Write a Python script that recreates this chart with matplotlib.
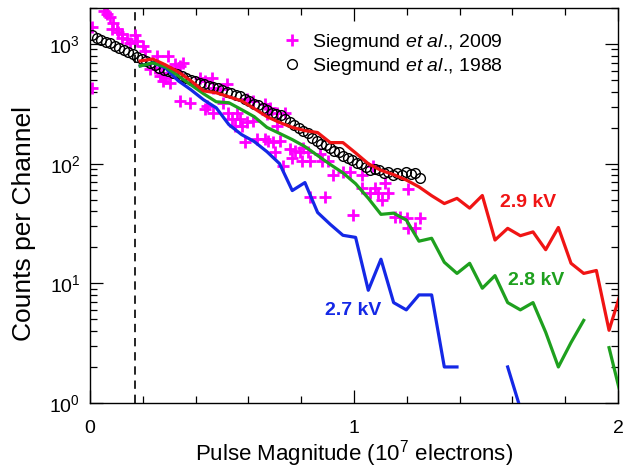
import numpy as np
import matplotlib
matplotlib.use("Agg")
import matplotlib.pyplot as plt
from matplotlib.ticker import MultipleLocator

plt.rcParams["font.family"] = ["Liberation Sans", "DejaVu Sans"]
plt.rcParams["mathtext.fontset"] = "custom"
plt.rcParams["mathtext.rm"] = "Liberation Sans"
plt.rcParams["mathtext.it"] = "Liberation Sans:italic"
plt.rcParams["mathtext.bf"] = "Liberation Sans:bold"

# modelled pulse height distributions, bins in units of 1e7 electrons
bin_start = 0.19
bin_width = 0.048
counts_29kv = [722, 749, 669, 585, 493, 406, 391, 362, 335, 289,
               247, 221, 201, 189, 182, 150, 150, 123, 100, 88,
               81, 73, 64, 54, 46.4, 51.3, 42.5, 54.2, 23, 28.8,
               25, 26.9, 19.1, 29.3, 14.7, 12.1, 12.8, 4.05, 8.9]
counts_28kv = [656, 695, 644, 542, 456, 384, 329, 323, 283, 247,
               201, 179, 159, 139, 117, 98.5, 83.8, 68, 51.4, 37.7,
               38.6, 33.8, 22.5, 23.8, 15.0, 12.1, 14.7, 9.1, 11.6, 6.9,
               6.0, 6.9, 3.9, 2.0, 3.2, 4.9, 0, 2.9, 1.08]
counts_27kv = [656, 695, 631, 493, 415, 342, 293, 212, 175, 153,
               126, 100, 59.6, 69.5, 39.1, 31.1, 25.2, 24.2, 8.75, 15.9,
               6.9, 6.0, 8.0, 8.0, 2.0, 2.0, 0, 0, 0, 2.0,
               0.9, 0, 0, 0, 0, 0, 0, 0, 0]

# Siegmund et al. 2009
pts_2009_x = [0.008, 0.008, 0.053, 0.064, 0.076, 0.087, 0.083, 0.102, 0.106, 0.121,
              0.121, 0.140, 0.152, 0.170, 0.178, 0.201, 0.208, 0.227, 0.246, 0.254,
              0.265, 0.273, 0.277, 0.284, 0.295, 0.303, 0.311, 0.322, 0.330, 0.341,
              0.352, 0.341, 0.379, 0.417, 0.436, 0.462, 0.466, 0.492, 0.519, 0.443,
              0.436, 0.466, 0.504, 0.523, 0.538, 0.557, 0.568, 0.549, 0.576, 0.595,
              0.617, 0.595, 0.617, 0.663, 0.682, 0.670, 0.708, 0.739, 0.708, 0.587,
              0.633, 0.663, 0.674, 0.693, 0.720, 0.701, 0.758, 0.777, 0.795, 0.826,
              0.765, 0.803, 0.731, 0.807, 0.833, 0.879, 0.902, 0.871, 0.920, 0.958,
              0.985, 1.030, 1.072, 1.030, 1.061, 1.080, 1.091, 1.117, 1.129, 1.106,
              0.890, 0.833, 0.996, 1.155, 1.174, 1.201, 1.205, 1.205, 1.231, 1.250]
pts_2009_y = [1384, 432, 1875, 1770, 1671, 1493, 1332, 1332, 1259, 1211,
              1122, 1102, 1021, 1189, 1061, 960, 872, 620, 632, 794,
              543, 575, 494, 522, 794, 474, 597, 682, 575, 656,
              695, 336, 323, 522, 494, 522, 431, 423, 465, 305,
              288, 266, 323, 266, 238, 266, 238, 208, 208, 221,
              229, 349, 336, 317, 293, 261, 266, 266, 208, 151,
              162, 162, 156, 151, 156, 124, 133, 128, 124, 124,
              112, 106, 96.5, 136, 106, 106, 106, 121, 79.8, 84.5,
              84.5, 79.8, 96.5, 63.1, 57.4, 63.1, 56.4, 69.5, 57.4, 49.4,
              52.3, 52.3, 37.0, 35.5, 35.5, 34.9, 62.0, 28.8, 28.8, 34.9]

# Siegmund et al. 1988, regular channels
ch_1988_start = 0.008
ch_1988_width = 0.017
counts_1988 = [1189, 1122, 1082, 1041, 1021, 962, 925, 890, 857, 825,
               779, 750, 722, 695, 669, 632, 608, 597, 575, 563,
               543, 522, 503, 494, 476, 467, 450, 440, 432, 415,
               399, 391, 376, 369, 349, 336, 317, 311, 293, 282,
               266, 261, 257, 238, 224, 212, 200, 189, 179, 165,
               156, 147, 142, 136, 128, 124, 117, 112, 108, 102,
               98.5, 94.5, 87.7, 91.0, 87.7, 82.8, 86.0, 79.8, 82.8, 79.8,
               84.5, 81.3, 82.8, 75.2]

threshold = 0.17

x_bins = bin_start + bin_width * np.arange(len(counts_29kv))
x_1988 = ch_1988_start + ch_1988_width * np.arange(len(counts_1988))

fig = plt.figure(figsize=(6.34, 4.70), dpi=100)
ax = fig.add_axes([0.142, 0.1426, 0.8328, 0.8404])
ax.set_yscale("log", nonpositive="mask")

ax.axvline(threshold, color="black", lw=1.2, ls=(0, (5, 3.5)), zorder=1)

ax.plot(pts_2009_x, pts_2009_y, ls="none", marker="+", ms=8, mew=2,
        color="#ff00ff", zorder=2, label="Siegmund $\\mathit{et\\ al}$., 2009")
ax.plot(x_1988, counts_1988, ls="none", marker="o", ms=7, mew=1,
        mfc="none", mec="black", zorder=3, label="Siegmund $\\mathit{et\\ al}$., 1988")

ax.plot(x_bins, counts_27kv, color="#1428e6", lw=2.3, zorder=4)
ax.plot(x_bins, counts_28kv, color="#1ea01e", lw=2.3, zorder=4)
ax.plot(x_bins, counts_29kv, color="#f01414", lw=2.3, zorder=4)

ax.text(1.66, 47, "2.9 kV", color="#f01414", fontsize=14, fontweight="bold",
        ha="center", va="center")
ax.text(1.69, 10.6, "2.8 kV", color="#1ea01e", fontsize=14, fontweight="bold",
        ha="center", va="center")
ax.text(0.996, 5.96, "2.7 kV", color="#1428e6", fontsize=14, fontweight="bold",
        ha="center", va="center")

ax.set_xlim(0, 2)
ax.set_ylim(1, 2000)
ax.xaxis.set_major_locator(MultipleLocator(1))
ax.xaxis.set_minor_locator(MultipleLocator(0.2))

ax.tick_params(which="both", direction="in", top=True, right=True, width=0.9)
ax.tick_params(which="major", length=9.5, labelsize=14)
ax.tick_params(which="minor", length=5)
ax.tick_params(axis="x", which="major", pad=12)
ax.tick_params(axis="y", which="major", pad=7)
for sp in ax.spines.values():
    sp.set_linewidth(1.0)

ax.set_xlabel("Pulse Magnitude (10$^7$ electrons)", fontsize=16)
ax.xaxis.set_label_coords(0.5, -0.128)
ax.set_ylabel("Counts per Channel", fontsize=19)
ax.yaxis.set_label_coords(-0.125, 0.455)
ax.xaxis.label.set_va("center")
ax.yaxis.label.set_va("center")

ax.legend(loc="upper left", bbox_to_anchor=(0.365, 0.94), frameon=False,
          fontsize=14, handlelength=1.0, handletextpad=0.5, borderpad=0,
          labelspacing=0.15, borderaxespad=0)

fig.savefig("out.png", dpi=100)
